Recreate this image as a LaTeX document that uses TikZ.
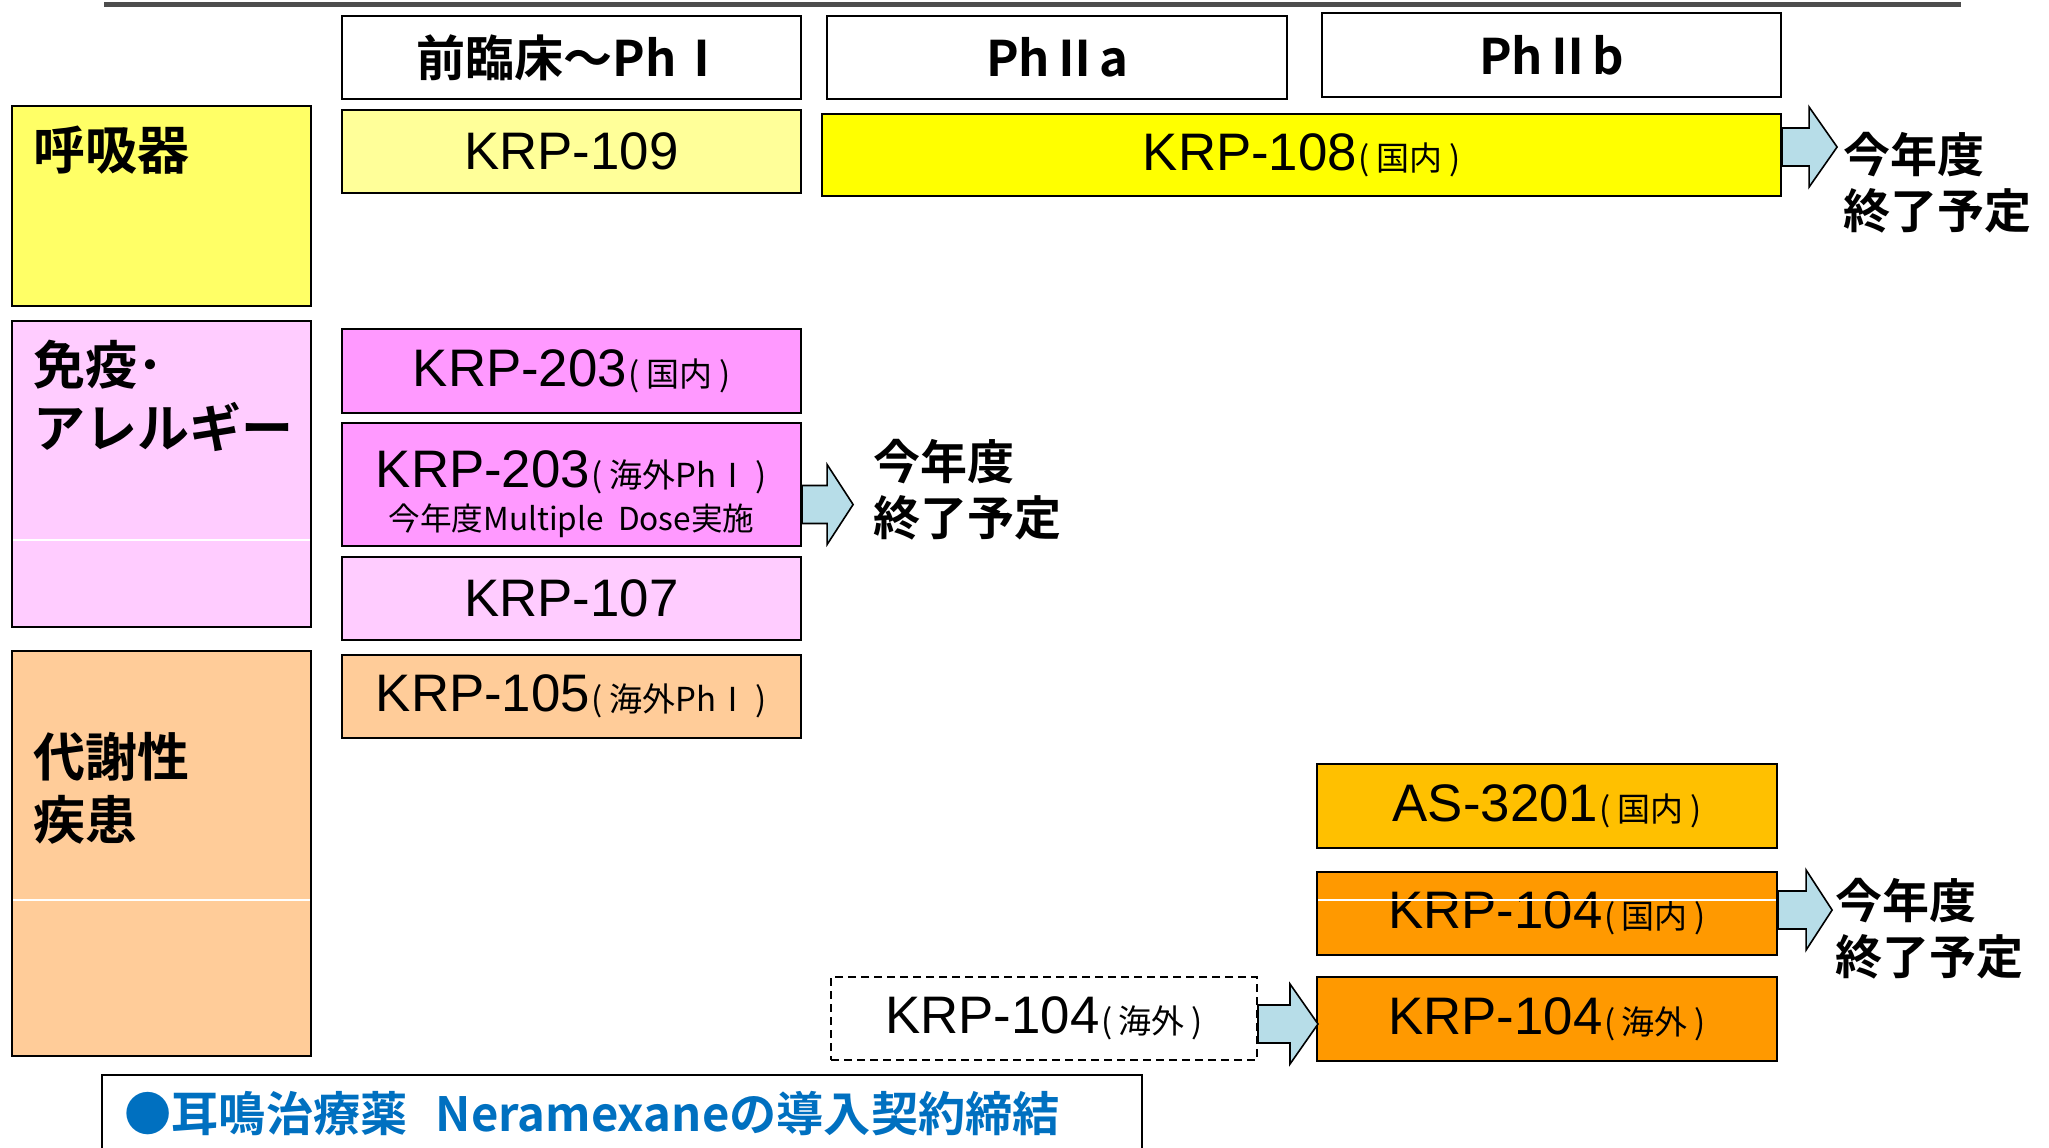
\documentclass[tikz,border=0pt]{standalone}
\usepackage{fontspec}
\setmainfont{Liberation Sans}
\newfontfamily\jp{Noto Sans CJK JP}[BoldFont={Noto Sans CJK JP Bold}]
\definecolor{cResp}{HTML}{FFFF66}
\definecolor{cK109}{HTML}{FFFF99}
\definecolor{cK108}{HTML}{FFFF00}
\definecolor{cImmu}{HTML}{FFCCFF}
\definecolor{cK203}{HTML}{FF99FF}
\definecolor{cMeta}{HTML}{FFCC99}
\definecolor{cAS}{HTML}{FFC000}
\definecolor{cK104}{HTML}{FF9900}
\definecolor{cArrow}{HTML}{B7DDE8}
\definecolor{cBlue}{HTML}{0070C0}
\definecolor{cLine}{HTML}{4D4D4D}
\newcommand\suf[1]{{\jp\fontsize{16.5}{18}\selectfont\kern0.05em(\kern0.2em#1\kern0.2em)}}
\newcommand\fw[1]{\makebox[1em][c]{#1}}
\newcommand\blockarrow[3]{%
  \path[blk] (#1) ++(0,-19) -- ++(#2,0) -- ++(0,-21) -- ++(#3,40) -- ++(-#3,40) -- ++(0,-21) -- ++(-#2,0) -- cycle;}
\tikzset{
  box/.style={draw=black, line width=1.1pt, inner sep=0pt, font=\fontsize{26.4}{30}\selectfont},
  krp/.style={box, minimum width=229.5pt, minimum height=41.5pt},
  hdr/.style={box, fill=white, font=\jp\bfseries\fontsize{24.5}{28}\selectfont},
  cat/.style={anchor=west, align=left, inner sep=0pt, font=\jp\bfseries\fontsize{26}{31.5}\selectfont},
  note/.style={anchor=west, align=left, inner sep=0pt, font=\jp\bfseries\fontsize{23.5}{28}\selectfont},
  blk/.style={draw=black, line width=0.8pt, fill=cArrow, line join=miter},
  wline/.style={draw=white, line width=0.6pt},
}
\begin{document}
\begin{tikzpicture}[x=0.5pt,y=-0.5pt]
\useasboundingbox (0,0) rectangle (2049,1147);
\clip (0,0) rectangle (2049,1147);
% top rule
\draw[cLine, line width=2.5pt] (104,4.5) -- (1961,4.5);
% phase headers
\node[hdr, minimum width=229.5pt, minimum height=41.5pt] (hA) at (571.5,57.5) {前臨床～Ph\fw{Ⅰ}};
\node[hdr, minimum width=230pt, minimum height=41.5pt] (hB) at (1057,57.5) {Ph\fw{Ⅱ}a};
\node[hdr, minimum width=229.5pt, minimum height=42pt] (hC) at (1551.5,55) {Ph\fw{Ⅱ}b};
% category boxes
\node[box, fill=cResp, minimum width=149.5pt, minimum height=100pt] (resp) at (161.5,206) {};
\node[cat] (respL) at (33,150) {呼吸器};
\node[box, fill=cImmu, minimum width=149.5pt, minimum height=153pt] (immu) at (161.5,474) {};
\draw[wline] (13,540) -- (310,540);
\node[cat] (immuL) at (33,395.5) {免疫･\\アレルギー};
\node[box, fill=cMeta, minimum width=149.5pt, minimum height=202.5pt] (meta) at (161.5,853.5) {};
\draw[wline] (13,900) -- (310,900);
\node[cat] (metaL) at (33,788.5) {代謝性\\疾患};
% compounds
\node[krp, fill=cK109] (k109) at (571.5,151.5) {KRP-109};
\node[box, fill=cK108, minimum width=479.5pt, minimum height=41pt] (k108) at (1301.5,155) {KRP-108\suf{国内}};
\node[krp, fill=cK203, minimum height=42pt] (k203a) at (571.5,371) {KRP-203\suf{国内}};
\node[krp, fill=cK203, minimum height=61.5pt] (k203b) at (571.5,484.5) {};
\node[anchor=base, inner sep=0pt, font=\fontsize{26.4}{30}\selectfont] (k203bT) at (571.5,487) {KRP-203\suf{海外Ph\fw{Ⅰ}}};
\node[anchor=base, inner sep=0pt, font=\jp\fontsize{15.8}{18}\selectfont] (k203bS) at (571.5,530) {今年度Multiple\ \ Dose実施};
\node[krp, fill=cImmu] (k107) at (571.5,598.5) {KRP-107};
\node[krp, fill=cMeta] (k105) at (571.5,696.5) {KRP-105\suf{海外Ph\fw{Ⅰ}}};
\node[krp, fill=cAS, minimum width=230pt, minimum height=42pt] (as) at (1547,806) {AS-3201\suf{国内}};
\node[krp, fill=cK104, minimum width=230pt] (k104j) at (1547,913.5) {KRP-104\suf{国内}};
\draw[wline] (1318,900) -- (1776,900);
\node[krp, fill=cK104, minimum width=230pt, minimum height=42pt] (k104f) at (1547,1019) {KRP-104\suf{海外}};
\node[krp, fill=white, dash pattern=on 4pt off 2.5pt, line width=1pt, minimum width=213pt] (k104d) at (1044,1018.5) {KRP-104\suf{海外}};
% block arrows
\coordinate (a1) at ([yshift=4pt]k108.east);
\blockarrow{a1}{27}{28}
\coordinate (a2) at ([yshift=-10pt]k203b.east);
\blockarrow{a2}{25}{26}
\coordinate (a3) at ([yshift=1.75pt]k104j.east);
\blockarrow{a3}{28}{26}
\coordinate (a4) at ([yshift=-2.75pt]k104d.east);
\blockarrow{a4}{32}{28}
% notes
\node[note] (n1) at (1843,182.5) {今年度\\終了予定};
\node[note] (n2) at (873,490) {今年度\\終了予定};
\node[note] (n3) at (1835,929) {今年度\\終了予定};
% bottom box
\node[draw=black, line width=1pt, fill=white, minimum width=520pt, minimum height=47.5pt, inner sep=0pt] (bot) at (622,1122.5) {};
\node[anchor=west, inner sep=0pt, text=cBlue, font=\jp\bfseries\fontsize{23.6}{27}\selectfont] (botT) at (124,1114) {●耳鳴治療薬\hspace{0.6em}Neramexaneの導入契約締結};
\end{tikzpicture}
\end{document}
